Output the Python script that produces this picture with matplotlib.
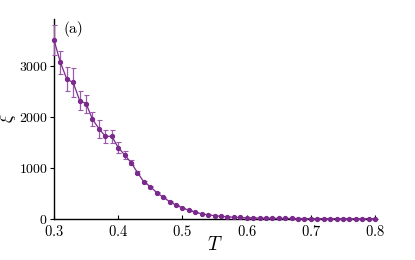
import numpy as np
import matplotlib
matplotlib.use("Agg")
import matplotlib.pyplot as plt

plt.rcParams['font.family'] = 'serif'
plt.rcParams['font.serif'] = ['cmr10']
plt.rcParams['mathtext.fontset'] = 'cm'
plt.rcParams['axes.formatter.use_mathtext'] = True

# temperature grid and correlation length
T = [0.30, 0.31, 0.32, 0.33, 0.34, 0.35, 0.36, 0.37, 0.38, 0.39,
     0.40, 0.41, 0.42, 0.43, 0.44, 0.45, 0.46, 0.47, 0.48, 0.49,
     0.50, 0.51, 0.52, 0.53, 0.54, 0.55, 0.56, 0.57, 0.58, 0.59,
     0.60, 0.61, 0.62, 0.63, 0.64, 0.65, 0.66, 0.67, 0.68, 0.69,
     0.70, 0.71, 0.72, 0.73, 0.74, 0.75, 0.76, 0.77, 0.78, 0.79, 0.80]
xi = [3510, 3070, 2740, 2675, 2320, 2260, 1955, 1770, 1620, 1620,
      1400, 1255, 1105, 910, 725, 635, 515, 425, 340, 270,
      215, 170, 130, 100, 80, 65, 52, 42, 34, 28,
      23, 20, 17, 15, 13, 11, 10, 9, 8, 7,
      7, 6, 6, 5, 5, 5, 4, 4, 4, 4, 4]
err = [300, 230, 235, 275, 180, 175, 135, 175, 130, 130,
       110, 80, 50, 30, 20, 15, 12, 10, 8, 6,
       5, 4, 3, 3, 2, 2, 2, 2, 2, 2,
       1, 1, 1, 1, 1, 1, 1, 1, 1, 1,
       1, 1, 1, 1, 1, 1, 1, 1, 1, 1, 1]

fig = plt.figure(figsize=(4.15, 2.6), dpi=100)
ax = fig.add_axes([0.130, 0.158, 0.774, 0.769])

ax.errorbar(T, xi, yerr=err, color='#7a2a8c', ecolor='#9c5aad',
            elinewidth=0.9, capsize=1.8, capthick=0.8,
            marker='o', markersize=2.8, linewidth=0.9, clip_on=False, zorder=3)

ax.set_xlim(0.3, 0.8)
ax.set_ylim(0, 3920)
ax.set_xticks([0.3, 0.4, 0.5, 0.6, 0.7, 0.8])
ax.set_yticks([0, 1000, 2000, 3000])
ax.spines['top'].set_visible(False)
ax.spines['right'].set_visible(False)
ax.spines['left'].set_linewidth(1.0)
ax.spines['bottom'].set_linewidth(1.0)
ax.tick_params(axis='x', direction='in', length=3, labelsize=10.5, pad=4)
ax.tick_params(axis='y', direction='out', length=3, labelsize=10, pad=1.5)

ax.set_xlabel(r'$T$', fontsize=14)
ax.set_ylabel(r'$\xi$', fontsize=12.5, rotation=90)
ax.xaxis.set_label_coords(0.50, -0.085)
ax.yaxis.set_label_coords(-0.113, 0.505)
ax.text(0.03, 0.99, '(a)', transform=ax.transAxes, fontsize=11, va='top')

fig.savefig('out.png', dpi=100)
